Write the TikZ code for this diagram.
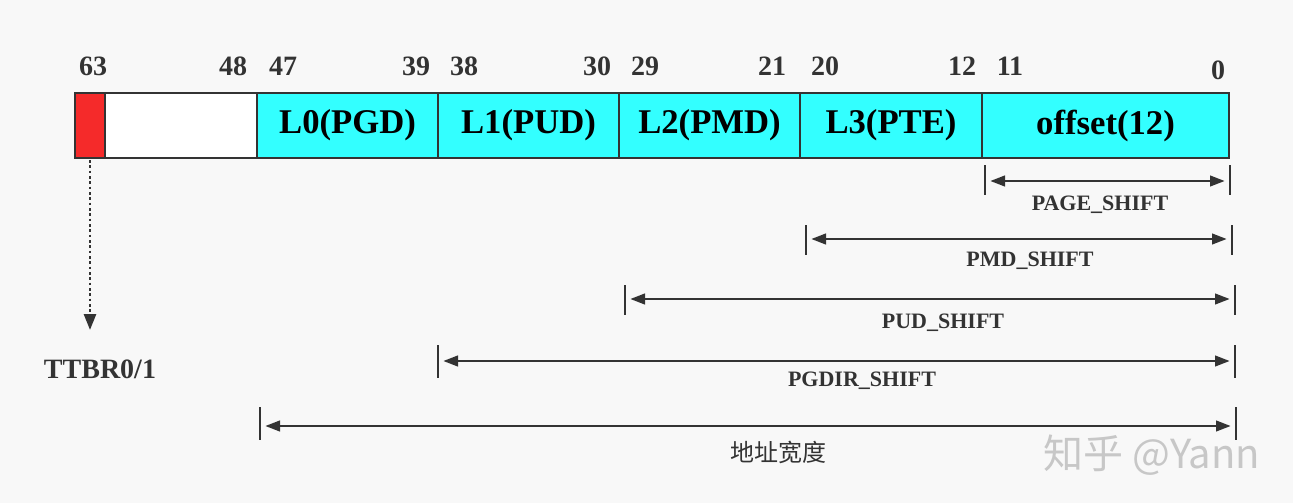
\documentclass[tikz,border=0pt]{standalone}
\usepackage{fontspec}
\setmainfont{Liberation Serif}
\newfontfamily\cjk{Noto Sans CJK SC}
\usetikzlibrary{arrows.meta}
\definecolor{cyanf}{HTML}{33FFFF}
\definecolor{redf}{HTML}{F52A2A}
\definecolor{bg}{HTML}{F8F8F8}
\definecolor{ln}{HTML}{333333}
\tikzset{
 fld/.style={draw=ln,line width=1.5pt,fill=cyanf,font=\bfseries\fontsize{26}{27}\selectfont},
 num/.style={font=\bfseries\fontsize{21}{22}\selectfont,text=ln},
 lab/.style={font=\bfseries\fontsize{16.5}{17}\selectfont,text=ln},
 tick/.style={draw=ln,line width=1.5pt},
 dim/.style={draw=ln,line width=1.6pt,{Triangle[length=11pt,width=8pt]}-{Triangle[length=11pt,width=8pt]}}
}
\begin{document}
\begin{tikzpicture}[x=0.75pt,y=-0.75pt]
\fill[bg] (0,0) rectangle (1293,503);
\useasboundingbox (0,0) rectangle (1293,503);
% boxes
\filldraw[fill=redf,draw=ln,line width=1.5pt] (75,93) rectangle (105,158) coordinate (redbr);
\filldraw[fill=white,draw=ln,line width=1.5pt] (105,93) rectangle (257,158);
\path[fld] (257,93) rectangle node (l0) {L0(PGD)} (438,158);
\path[fld] (438,93) rectangle node (l1) {L1(PUD)} (619,158);
\path[fld] (619,93) rectangle node (l2) {L2(PMD)} (800,158);
\path[fld] (800,93) rectangle node (l3) {L3(PTE)} (982,158);
\path[fld] (982,93) rectangle node (off) {offset(12)} (1229,158);
% numbers
\foreach \x/\t/\y in {93/63/66,233/48/66,283/47/66,416/39/66,464/38/66,597/30/66,645/29/66,772/21/66,825/20/66,962/12/66,1010/11/66,1218/0/70}
  \node[num] at (\x,\y) {\t};
% TTBR
\coordinate (rs) at (90,160);
\node[num] (tt) at (100,369) {TTBR0/1};
\coordinate (re) at (90,330);
\draw[ln,line width=2pt,dotted,-{Triangle[length=12pt,width=9pt]}] (rs) -- (re);
% dimension lines
\foreach \a/\b/\ya/\yb/\ym/\lx/\ly/\t/\n in {
 985/1230/165/195/181/1100/205/PAGE\_SHIFT/d1,
 806/1232/225/255/239/1030/261/PMD\_SHIFT/d2,
 625/1235/285/315/299/943/323/PUD\_SHIFT/d3,
 438/1235/345/378/361/862/381/PGDIR\_SHIFT/d4}{
 \coordinate (\n a) at (\a,\ym);
 \coordinate (\n b) at (\b,\ym);
 \draw[tick] (\a,\ya) -- (\a,\yb);
 \draw[tick] (\b,\ya) -- (\b,\yb);
 \draw[dim] ([xshift=4pt]\n a) -- ([xshift=-4pt]\n b);
 \node[lab] (\n l) at (\lx,\ly) {\t};
}
\coordinate (d5a) at (260,426);
\coordinate (d5b) at (1236,426);
\draw[tick] (260,407) -- (260,440);
\draw[tick] (1236,407) -- (1236,440);
\draw[dim] ([xshift=4pt]d5a) -- ([xshift=-4pt]d5b);
\node[font=\cjk\fontsize{18}{19}\selectfont,text=ln] (d5l) at (778,452) {地址宽度};
\node[font=\cjk\fontsize{30}{31}\selectfont,text=black!22] (wm) at (1152,455) {知乎 @Yann};
\end{tikzpicture}
\end{document}
